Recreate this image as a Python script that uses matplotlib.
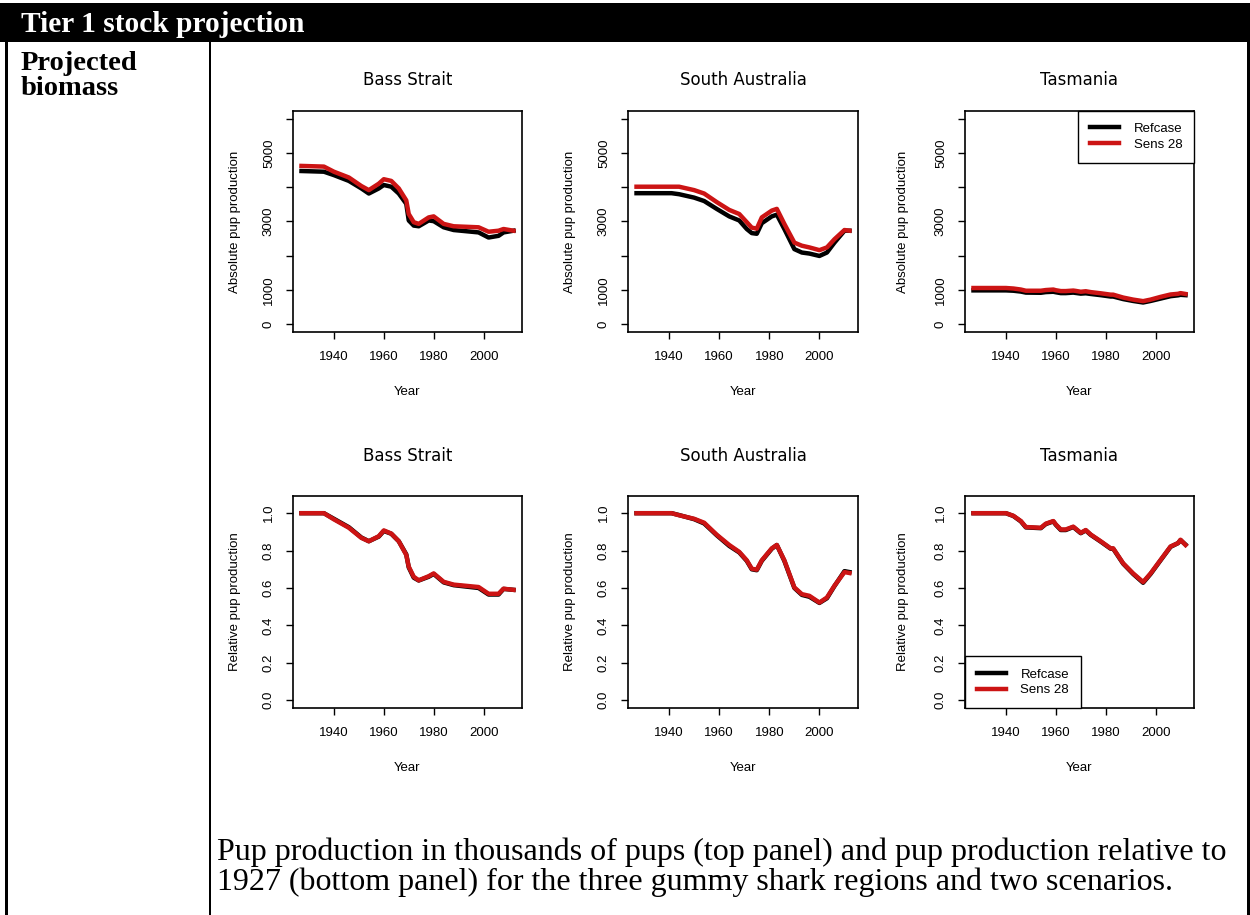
#
# Script to plot projected pup production for the gummy shark regions
#
# IMPORT STATEMENTS
import matplotlib
matplotlib.use('Agg')
import matplotlib.pyplot as plt
from matplotlib.patches import Rectangle

# region names and scenarios
regions = ['Bass Strait', 'South Australia', 'Tasmania']
scenarios = ['Refcase', 'Sens 28']

# BASS STRAIT
bs_years = [1927, 1936, 1940, 1946, 1951, 1954, 1958, 1960, 1963, 1966, 1969, 1970,
            1972, 1974, 1978, 1980, 1984, 1988, 1998, 2002, 2006, 2008, 2012]
bs_ref_abs = [4480, 4460, 4360, 4190, 3970, 3820, 3970, 4070, 4020, 3820, 3520, 3030,
              2880, 2860, 3030, 3010, 2830, 2750, 2680, 2530, 2580, 2680, 2730]
bs_sens_abs = [4630, 4610, 4460, 4290, 4040, 3920, 4110, 4240, 4190, 3970, 3620, 3220,
               2980, 2930, 3120, 3150, 2930, 2860, 2830, 2700, 2730, 2780, 2730]
bs_ref_rel = [1.0, 1.0, 0.97, 0.925, 0.87, 0.85, 0.875, 0.905, 0.89, 0.85, 0.78, 0.71,
              0.655, 0.64, 0.66, 0.675, 0.63, 0.615, 0.60, 0.565, 0.565, 0.595, 0.59]
bs_sens_rel = [1.0, 1.0, 0.967, 0.922, 0.868, 0.85, 0.877, 0.908, 0.891, 0.85, 0.777, 0.714,
               0.66, 0.641, 0.663, 0.678, 0.633, 0.618, 0.605, 0.569, 0.569, 0.596, 0.59]

# SOUTH AUSTRALIA
sa_years = [1927, 1941, 1944, 1950, 1954, 1959, 1964, 1968, 1971, 1973, 1975, 1977,
            1981, 1983, 1986, 1990, 1993, 1996, 2000, 2003, 2006, 2010, 2012]
sa_ref_abs = [3830, 3830, 3800, 3700, 3600, 3370, 3150, 3030, 2780, 2660, 2640, 2950,
              3150, 3200, 2780, 2190, 2090, 2060, 1990, 2090, 2380, 2730, 2730]
sa_sens_abs = [4020, 4020, 4020, 3920, 3820, 3570, 3340, 3220, 2980, 2820, 2790, 3120,
               3320, 3370, 2930, 2380, 2290, 2240, 2160, 2240, 2480, 2750, 2730]
sa_ref_rel = [1.0, 1.0, 0.99, 0.968, 0.945, 0.882, 0.825, 0.79, 0.745, 0.70, 0.695, 0.745,
              0.81, 0.83, 0.745, 0.60, 0.563, 0.553, 0.52, 0.545, 0.61, 0.69, 0.685]
sa_sens_rel = [1.0, 1.0, 0.989, 0.97, 0.949, 0.885, 0.83, 0.793, 0.748, 0.703, 0.698, 0.748,
               0.812, 0.83, 0.748, 0.603, 0.567, 0.558, 0.522, 0.549, 0.612, 0.685, 0.68]

# TASMANIA
tas_years = [1927, 1940, 1943, 1946, 1948, 1954, 1956, 1959, 1960, 1962, 1964, 1967, 1968, 1970,
             1972, 1974, 1978, 1982, 1983, 1987, 1991, 1995, 1998, 2002, 2006, 2009, 2010, 2012]
tas_ref_abs = [980, 980, 970, 945, 915, 910, 930, 940, 925, 900, 900, 915, 905, 885,
               895, 875, 840, 800, 800, 725, 670, 625, 670, 740, 810, 835, 850, 840]
tas_sens_abs = [1050, 1050, 1035, 1005, 970, 970, 990, 1005, 985, 960, 960, 975, 965, 940,
                955, 930, 895, 855, 855, 770, 710, 665, 710, 790, 860, 880, 900, 875]
tas_ref_rel = [1.0, 1.0, 0.985, 0.956, 0.924, 0.92, 0.942, 0.956, 0.938, 0.91, 0.91, 0.926, 0.915, 0.893,
               0.908, 0.884, 0.848, 0.81, 0.81, 0.73, 0.675, 0.628, 0.675, 0.748, 0.82, 0.84, 0.856, 0.832]
tas_sens_rel = [1.0, 1.0, 0.986, 0.958, 0.926, 0.922, 0.944, 0.958, 0.94, 0.913, 0.913, 0.928, 0.917, 0.895,
                0.91, 0.886, 0.85, 0.812, 0.812, 0.732, 0.678, 0.632, 0.678, 0.75, 0.822, 0.84, 0.858, 0.83]

# text
header = 'Tier 1 stock projection'
row_label = ['Projected', 'biomass']
caption = ['Pup production in thousands of pups (top panel) and pup production relative to',
           '1927 (bottom panel) for the three gummy shark regions and two scenarios.']

# group series by panel row
years = [bs_years, sa_years, tas_years]
abs_ref = [bs_ref_abs, sa_ref_abs, tas_ref_abs]
abs_sens = [bs_sens_abs, sa_sens_abs, tas_sens_abs]
rel_ref = [bs_ref_rel, sa_ref_rel, tas_ref_rel]
rel_sens = [bs_sens_rel, sa_sens_rel, tas_sens_rel]

# SETUP
W, H = 1250, 915
RED = '#cc1414'
SANS = 'Liberation Sans'
SERIF = 'Liberation Serif'
fig = plt.figure(figsize=(W / 100, H / 100), dpi=100)

# background layer in pixel units for the table frame and text
bg = fig.add_axes([0, 0, 1, 1])
bg.set_xlim(0, W)
bg.set_ylim(H, 0)
bg.axis('off')
bg.add_patch(Rectangle((0, 3), W, 39, facecolor='black', edgecolor='none'))
bg.add_patch(Rectangle((5, 42), 3, H - 42, facecolor='black', edgecolor='none'))
bg.add_patch(Rectangle((209, 42), 2, H - 42, facecolor='black', edgecolor='none'))
bg.add_patch(Rectangle((1247, 42), 3, H - 42, facecolor='black', edgecolor='none'))
bg.text(21, 32, header, color='white', fontsize=21.2, fontweight='bold', family=SERIF, va='baseline')
bg.text(21, 70, row_label[0], fontsize=20.5, fontweight='bold', family=SERIF, va='baseline')
bg.text(21, 95, row_label[1], fontsize=20.5, fontweight='bold', family=SERIF, va='baseline')
bg.text(217, 860, caption[0], fontsize=23, family=SERIF, va='baseline')
bg.text(217, 890, caption[1], fontsize=23, family=SERIF, va='baseline')


def make_axes(left, top, right, bottom):
    return fig.add_axes([left / W, 1 - bottom / H, (right - left) / W, (bottom - top) / H])


col_x = [(293, 522), (628, 858), (965, 1194)]
ylab_x = [235, 570, 903]
rows = [(111, 332, 79, 358, 392), (496, 708, 455, 734, 768)]

for r, (top, bottom, title_y, tick_y, year_y) in enumerate(rows):
    for c in range(3):
        left, right = col_x[c]
        ax = make_axes(left, top, right, bottom)
        if r == 0:
            ref, sens = abs_ref[c], abs_sens[c]
        else:
            ref, sens = rel_ref[c], rel_sens[c]
        l1, = ax.plot(years[c], ref, color='black', lw=3.2, label=scenarios[0])
        l2, = ax.plot(years[c], sens, color=RED, lw=3.2, label=scenarios[1])
        ax.set_xlim(1927 - 3.4, 2012 + 3.4)
        ax.set_xticks([1940, 1960, 1980, 2000])
        if r == 0:
            ax.set_ylim(-240, 6240)
            ax.set_yticks([0, 1000, 2000, 3000, 4000, 5000, 6000])
            ax.set_yticklabels(['0', '1000', '', '3000', '', '5000', ''])
            ylabel = 'Absolute pup production'
        else:
            ax.set_ylim(-0.042, 1.092)
            ax.set_yticks([0, 0.2, 0.4, 0.6, 0.8, 1.0])
            ax.set_yticklabels(['0.0', '0.2', '0.4', '0.6', '0.8', '1.0'])
            ylabel = 'Relative pup production'
        ax.tick_params(direction='out', length=5, width=1, labelsize=9.5, colors='black')
        ax.tick_params(axis='x', pad=9)
        ax.tick_params(axis='y', pad=8)
        for lab in ax.get_xticklabels() + ax.get_yticklabels():
            lab.set_family(SANS)
        for lab in ax.get_yticklabels():
            lab.set_rotation(90)
            lab.set_va('center')
        for s in ax.spines.values():
            s.set_linewidth(1.2)
        # panel texts
        mid = (left + right) / 2
        bg.text(mid, title_y + 1, regions[c], fontsize=12, family='DejaVu Sans', ha='center', va='center')
        bg.text(mid, year_y, 'Year', fontsize=9.5, family=SANS, ha='center', va='center')
        bg.text(ylab_x[c], (top + bottom) / 2, ylabel, fontsize=9.5, family=SANS,
                rotation=90, ha='center', va='center')
        # legends on the Tasmania panels
        if c == 2:
            loc = 'upper right' if r == 0 else 'lower left'
            leg = ax.legend(handles=[l1, l2], loc=loc, borderaxespad=0, fancybox=False,
                            edgecolor='black', framealpha=1, handlelength=2.2,
                            handletextpad=1.1, labelspacing=0.25, borderpad=0.9,
                            prop={'family': SANS, 'size': 9.5})
            leg.get_frame().set_linewidth(1.0)

fig.savefig('out.png', dpi=100)
